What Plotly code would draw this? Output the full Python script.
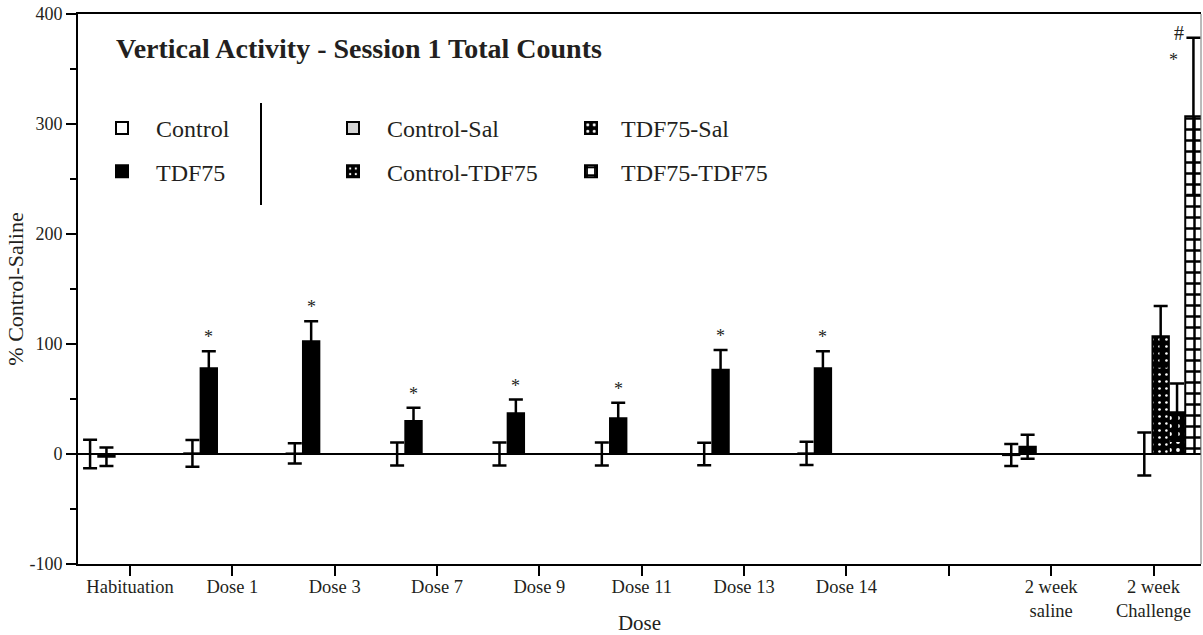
import plotly.graph_objects as go

# ---------------- data ----------------
categories = ["Habituation", "Dose 1", "Dose 3", "Dose 7", "Dose 9", "Dose 11",
              "Dose 13", "Dose 14", "", "2 week<br>saline", "2 week<br>Challenge"]
group_idx = [0, 1, 2, 3, 4, 5, 6, 7, 9]
control_vals = [0.0, 0.6, 0.5, 0.0, 0.0, 0.0, 0.0, 0.6, -1.0]
control_err = [13.0, 12.2, 9.2, 10.4, 10.5, 10.5, 10.2, 10.6, 10.0]
tdf75_vals = [-2.5, 78.0, 102.6, 30.0, 37.0, 32.5, 76.6, 78.0, 6.6]
tdf75_err = [8.5, 15.5, 18.0, 12.0, 12.5, 14.0, 18.0, 15.5, 11.0]
tdf75_sig = [False, True, True, True, True, True, True, True, False]

challenge_idx = 10
challenge_groups = ["Control-Sal", "Control-TDF75", "TDF75-Sal", "TDF75-TDF75"]
challenge_vals = [0.0, 107.0, 38.0, 307.0]
challenge_err = [19.5, 27.5, 26.0, 71.5]

y_ticks = [-100, 0, 100, 200, 300, 400]
y_ticktext = ["-100", "0", "100", "200", "300", "400"]

# ---------------- styling ----------------
FONT = "Liberation Serif, 'Times New Roman', Times, serif"
TXT = "#231f20"
BAR_W = 0.16
ERR = dict(type="data", thickness=2.5, width=7, color="black", visible=True)
OUTLINE = dict(color="black", width=2)

L, T, PW, PH = 78, 14, 1123, 550   # plot area in px


def px_x(x):
    return (x - L) / PW


def px_y(y):
    return 1 - (y - T) / PH


challenge_styles = [
    dict(legend="legend2", color="#d3d3d3", pattern=None),
    dict(legend="legend2", color="black",
         pattern=dict(shape=".", fgcolor="white", bgcolor="black", size=7, solidity=0.12, fillmode="replace")),
    dict(legend="legend3", color="black",
         pattern=dict(shape=".", fgcolor="white", bgcolor="black", size=8, solidity=0.18, fillmode="replace")),
    dict(legend="legend3", color="white",
         pattern=dict(shape="+", fgcolor="black", bgcolor="white", size=11, solidity=0.4, fillmode="replace")),
]
challenge_offsets = [-0.17, -0.01, 0.15, 0.31]

fig = go.Figure()

fig.add_trace(go.Bar(
    name="Control", x=group_idx, y=control_vals, width=BAR_W, offset=-0.47,
    marker=dict(color="white", line=OUTLINE),
    error_y=dict(ERR, array=control_err), legend="legend", legendgroup="a"))
fig.add_trace(go.Bar(
    name="TDF75", x=group_idx, y=tdf75_vals, width=BAR_W, offset=-0.31,
    marker=dict(color="black", line=OUTLINE),
    error_y=dict(ERR, array=tdf75_err), legend="legend", legendgroup="b"))

for i, (name, v, e) in enumerate(zip(challenge_groups, challenge_vals, challenge_err)):
    st = challenge_styles[i]
    mk = dict(color=st["color"], line=OUTLINE)
    if st["pattern"] is not None:
        mk["pattern"] = st["pattern"]
    fig.add_trace(go.Bar(
        name=name, x=[challenge_idx], y=[v], width=BAR_W, offset=challenge_offsets[i],
        marker=mk, error_y=dict(ERR, array=[e]), legend=st["legend"], legendgroup="c%d" % i))

# significance markers
annotations = []
for gi, v, e, s in zip(group_idx, tdf75_vals, tdf75_err, tdf75_sig):
    if s:
        annotations.append(dict(x=gi - 0.23, y=v + e, text="*", showarrow=False,
                                yshift=14, font=dict(family=FONT, size=18, color=TXT)))
top = challenge_vals[3] + challenge_err[3]
annotations.append(dict(x=challenge_idx + 0.245, y=top, text="#", showarrow=False,
                        yshift=5, font=dict(family=FONT, size=20, color=TXT)))
annotations.append(dict(x=challenge_idx + 0.2, y=top, text="*", showarrow=False,
                        yshift=-22, font=dict(family=FONT, size=18, color=TXT)))


def make_legend(x_px, itemwidth):
    return dict(font=dict(family=FONT, size=24, color=TXT), bgcolor="rgba(0,0,0,0)",
                traceorder="grouped", tracegroupgap=9, itemwidth=itemwidth,
                xanchor="left", yanchor="top", orientation="v", itemclick=False,
                x=px_x(x_px), y=px_y(106))


fig.update_layout(
    width=1203, height=635,
    margin=dict(l=L, r=1203 - L - PW, t=T, b=635 - T - PH),
    paper_bgcolor="white", plot_bgcolor="white",
    barmode="overlay",
    font=dict(family=FONT, color=TXT),
    title=dict(text="<b>Vertical Activity - Session 1 Total Counts</b>",
               font=dict(family=FONT, size=28, color=TXT),
               xref="paper", x=px_x(116), xanchor="left",
               yref="container", y=1 - 48 / 635, yanchor="middle"),
    legend=make_legend(88, 58),
    legend2=make_legend(319, 58),
    legend3=make_legend(561, 50),
    xaxis=dict(range=[-0.508, 10.464], tickmode="array",
               tickvals=list(range(len(categories))), ticktext=categories,
               showline=True, linecolor="black", linewidth=2, mirror=True,
               ticks="outside", ticklen=10, tickwidth=2, tickcolor="black",
               ticklabelstandoff=-5, automargin=False,
               showgrid=False, zeroline=False,
               tickfont=dict(family=FONT, size=18.5, color=TXT),
               title=dict(text="Dose", font=dict(family=FONT, size=21, color=TXT), standoff=4)),
    yaxis=dict(range=[-100, 400], tickmode="array", tickvals=y_ticks, ticktext=y_ticktext,
               showline=True, linecolor="black", linewidth=2, automargin=False,
               ticks="outside", ticklen=10, tickwidth=2, tickcolor="black",
               minor=dict(dtick=50, ticks="outside", ticklen=6, tickwidth=2, tickcolor="black"),
               showgrid=False, zeroline=True, zerolinecolor="black", zerolinewidth=2,
               tickfont=dict(family=FONT, size=18, color=TXT),
               title=dict(text="% Control-Saline", font=dict(family=FONT, size=22, color=TXT), standoff=0)),
    annotations=annotations,
    shapes=[
        dict(type="line", xref="paper", yref="paper", x0=px_x(261), x1=px_x(261),
             y0=px_y(103), y1=px_y(205), line=dict(color="black", width=2)),
        dict(type="line", xref="paper", yref="paper", x0=1, x1=1, y0=0, y1=1,
             line=dict(color="#777", width=1)),
    ],
)

fig.write_html("out.html", config={"displayModeBar": False},
               post_script="document.body.style.margin='0';")
